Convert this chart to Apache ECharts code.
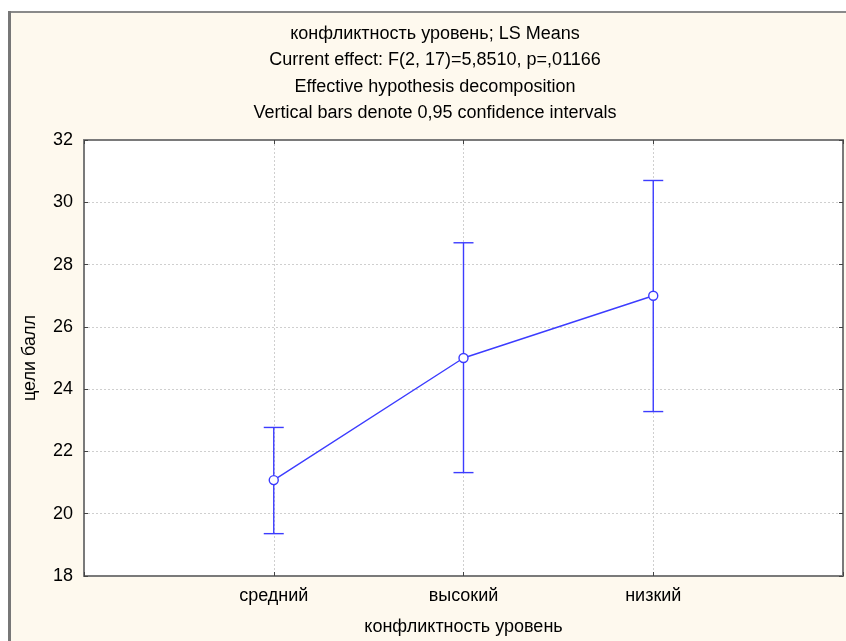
<!DOCTYPE html>
<html>
<head>
<meta charset="utf-8">
<script src="https://cdn.jsdelivr.net/npm/echarts@6/dist/echarts.min.js"></script>
<style>
html,body{margin:0;padding:0;background:#fff;}
#c{width:846px;height:641px;}
</style>
</head>
<body>
<div id="c"></div>
<script>
var categories = ['средний', 'высокий', 'низкий'];
var means = [21.08, 25.0, 27.0];
var lowerCI = [19.36, 21.32, 23.28];
var upperCI = [22.77, 28.7, 30.7];
var yTicks = [18, 20, 22, 24, 26, 28, 30, 32];
var titleLines = [
  'конфликтность уровень; LS Means',
  'Current effect: F(2, 17)=5,8510, p=,01166',
  'Effective hypothesis decomposition',
  'Vertical bars denote 0,95 confidence intervals'
];
var xAxisName = 'конфликтность уровень';
var yAxisName = 'цели балл';

var FONT = 'Liberation Sans, Arial, sans-serif';
var FS = 18;
var lineColor = '#3c3cff';

var pointData = means.map(function (v, i) { return [i + 1, v]; });
var errData = means.map(function (v, i) { return [i + 1, lowerCI[i], upperCI[i]]; });

var chart = echarts.init(document.getElementById('c'));

var titleGraphics = titleLines.map(function (t, i) {
  return {
    type: 'text', x: 435, y: 34 + i * 26.3,
    style: { text: t, fill: '#000', font: FS + 'px ' + FONT, textAlign: 'center', textVerticalAlign: 'middle' },
    z: 10
  };
});

var axisLineStyle = { color: '#7a7a7a', width: 2 };
var gridLineStyle = { color: '#cfcfcf', width: 1, type: [2, 2] };

chart.setOption({
  animation: false,
  backgroundColor: '#fff',
  graphic: [
    { type: 'rect', shape: { x: 10, y: 12, width: 840, height: 635 },
      style: { fill: '#fef9ee', stroke: '#8a8a8a', lineWidth: 2 }, z: -10 },
    { type: 'rect', shape: { x: 8, y: 11, width: 3, height: 640 },
      style: { fill: '#777' }, z: -9 }
  ].concat(titleGraphics),
  grid: { left: 84, right: 2, top: 140, bottom: 64, containLabel: false, show: true, backgroundColor: '#fff', borderWidth: 0 },
  xAxis: [{
    type: 'value', min: 0, max: 4, interval: 1,
    name: xAxisName, nameLocation: 'middle', nameGap: 42,
    nameTextStyle: { color: '#000', fontSize: FS, fontFamily: FONT },
    axisLine: { show: true, onZero: false, lineStyle: axisLineStyle },
    axisTick: { show: true, inside: true, length: 4, lineStyle: { color: '#444' } },
    axisLabel: {
      color: '#000', fontSize: FS, fontFamily: FONT, margin: 11,
      formatter: function (v) { return categories[v - 1] || ''; }
    },
    splitLine: { show: true, lineStyle: gridLineStyle }
  }, {
    type: 'value', position: 'top', min: 0, max: 4, interval: 1,
    axisLine: { show: true, onZero: false, lineStyle: axisLineStyle },
    axisTick: { show: true, inside: true, length: 4, lineStyle: { color: '#444' } },
    axisLabel: { show: false }, splitLine: { show: false }
  }],
  yAxis: [{
    type: 'value', min: yTicks[0], max: yTicks[yTicks.length - 1], interval: 2,
    name: yAxisName, nameLocation: 'middle', nameGap: 45, nameRotate: 90,
    nameTextStyle: { color: '#000', fontSize: FS, fontFamily: FONT },
    axisLine: { show: true, onZero: false, lineStyle: axisLineStyle },
    axisTick: { show: true, inside: true, length: 4, lineStyle: { color: '#444' } },
    axisLabel: { color: '#000', fontSize: FS, fontFamily: FONT, margin: 11 },
    splitLine: { show: true, lineStyle: gridLineStyle }
  }, {
    type: 'value', position: 'right', min: yTicks[0], max: yTicks[yTicks.length - 1], interval: 2,
    axisLine: { show: true, onZero: false, lineStyle: axisLineStyle },
    axisTick: { show: true, inside: true, length: 4, lineStyle: { color: '#444' } },
    axisLabel: { show: false }, splitLine: { show: false }
  }],
  series: [{
    type: 'custom',
    xAxisIndex: 0, yAxisIndex: 0,
    data: errData,
    renderItem: function (params, api) {
      var x = api.value(0);
      var lo = api.coord([x, api.value(1)]);
      var hi = api.coord([x, api.value(2)]);
      var hw = 10;
      var st = { stroke: lineColor, lineWidth: 1.4 };
      return {
        type: 'group',
        children: [
          { type: 'line', shape: { x1: lo[0], y1: lo[1], x2: hi[0], y2: hi[1] }, style: st },
          { type: 'line', shape: { x1: lo[0] - hw, y1: lo[1], x2: lo[0] + hw, y2: lo[1] }, style: st },
          { type: 'line', shape: { x1: hi[0] - hw, y1: hi[1], x2: hi[0] + hw, y2: hi[1] }, style: st }
        ]
      };
    },
    z: 2
  }, {
    type: 'line',
    xAxisIndex: 0, yAxisIndex: 0,
    data: pointData,
    symbol: 'circle', symbolSize: 9,
    itemStyle: { color: '#fff', borderColor: lineColor, borderWidth: 1.4 },
    lineStyle: { color: lineColor, width: 1.4 },
    z: 3
  }]
});
</script>
</body>
</html>
